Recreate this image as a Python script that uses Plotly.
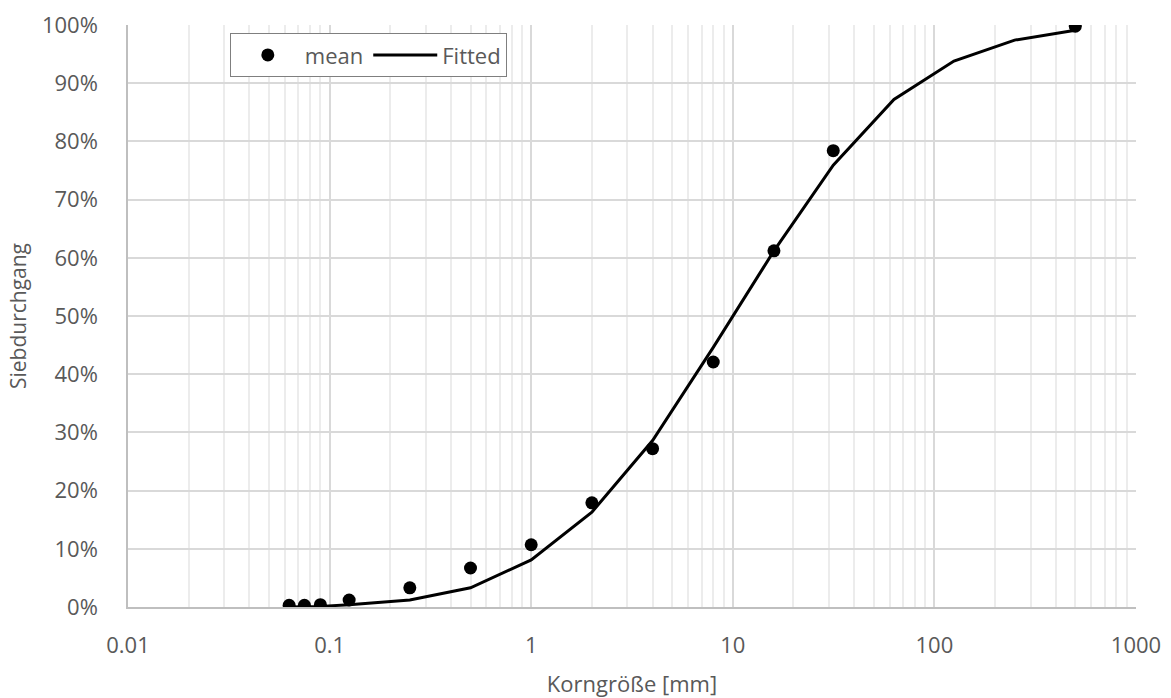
import plotly.graph_objects as go

# Data
mean_x = [0.063, 0.075, 0.09, 0.125, 0.25, 0.5, 1, 2, 4, 8, 16, 31.5, 500]
mean_y = [0.003, 0.003, 0.004, 0.012, 0.033, 0.067, 0.107, 0.179, 0.272, 0.421, 0.612, 0.784, 0.998]

fit_x = [0.063, 0.09, 0.125, 0.25, 0.5, 1, 2, 4, 8, 16, 31.5, 63, 125, 250, 500]
fit_y = [0.0, 0.001, 0.004, 0.012, 0.033, 0.081, 0.163, 0.286, 0.446, 0.612, 0.759, 0.872, 0.938, 0.974, 0.991]

x_tickvals = [0.01, 0.1, 1, 10, 100, 1000]
x_ticktext = ["0.01", "0.1", "1", "10", "100", "1000"]

font_family = "'Open Sans', Lato, sans-serif"
grey = "#595959"
fs = 22

fig = go.Figure()
fig.add_trace(go.Scatter(
    x=mean_x, y=mean_y, mode="markers", name="mean",
    marker=dict(color="black", size=13, symbol="circle"),
))
fig.add_trace(go.Scatter(
    x=fit_x, y=fit_y, mode="lines", name="Fitted",
    line=dict(color="black", width=3),
))

fig.update_layout(
    width=1171, height=698,
    margin=dict(l=128, r=35, t=25, b=91, autoexpand=False),
    paper_bgcolor="white", plot_bgcolor="white",
    font=dict(family=font_family, size=fs, color=grey),
    legend=dict(
        orientation="h", x=0.101, y=0.986, xanchor="left", yanchor="top",
        bordercolor="#7f7f7f", borderwidth=1, bgcolor="white",
        font=dict(size=fs, color=grey),
        itemwidth=64, tracegroupgap=0,
    ),
    showlegend=True,
)

fig.update_xaxes(
    type="log", range=[-2, 3], automargin=False,
    tickvals=x_tickvals, ticktext=x_ticktext,
    showgrid=True, gridcolor="#d9d9d9", gridwidth=1.5,
    minor=dict(dtick="D1", showgrid=True, gridcolor="#ececec", gridwidth=1.5),
    showline=True, linecolor="#bfbfbf", linewidth=1.5,
    ticks="", zeroline=False,
    title=dict(text="Korngröße [mm]", font=dict(size=fs, color=grey), standoff=18),
    tickfont=dict(size=fs, color=grey),
    ticklabelstandoff=18,
)
fig.update_yaxes(
    range=[0, 1], dtick=0.1, tickformat=".0%", automargin=False,
    showgrid=True, gridcolor="#d9d9d9", gridwidth=1.5,
    showline=True, linecolor="#bfbfbf", linewidth=1.5,
    ticks="", zeroline=False,
    title=dict(text="Siebdurchgang", font=dict(size=fs - 1, color=grey), standoff=10),
    tickfont=dict(size=fs, color=grey),
    ticklabelstandoff=24,
)

fig.write_html("out.html")
